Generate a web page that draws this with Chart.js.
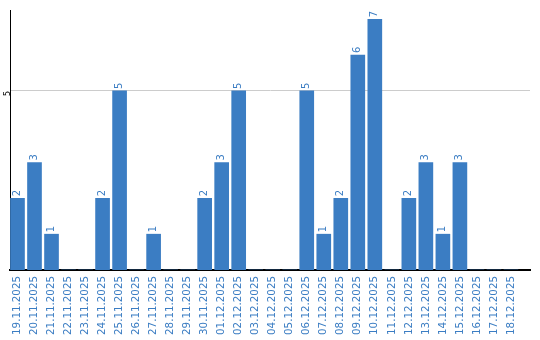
<!DOCTYPE html>
<html>
<head>
<meta charset="utf-8">
<script src="https://cdn.jsdelivr.net/npm/chart.js@4"></script>
<style>
html,body{margin:0;padding:0;background:#fff}
#wrap{width:540px;height:340px}
</style>
</head>
<body>
<div id="wrap"><canvas id="myChart"></canvas></div>
<script>
// days and counts
var days = ['19.11.2025','20.11.2025','21.11.2025','22.11.2025','23.11.2025','24.11.2025','25.11.2025','26.11.2025','27.11.2025','28.11.2025','29.11.2025','30.11.2025','01.12.2025','02.12.2025','03.12.2025','04.12.2025','05.12.2025','06.12.2025','07.12.2025','08.12.2025','09.12.2025','10.12.2025','11.12.2025','12.12.2025','13.12.2025','14.12.2025','15.12.2025','16.12.2025','17.12.2025','18.12.2025'];
var counts = [2,3,1,0,0,2,5,0,1,0,0,2,3,5,0,0,0,5,1,2,6,7,0,2,3,1,3,0,0,0];
var yTicks = [5];

var blue = '#3b7dc3';

var barLabels = {
    id: 'barLabels',
    afterDatasetsDraw: function(chart){
        var ctx = chart.ctx;
        var meta = chart.getDatasetMeta(0);
        ctx.save();
        ctx.font = '10px "DejaVu Sans"';
        ctx.fillStyle = blue;
        ctx.textAlign = 'left';
        ctx.textBaseline = 'middle';
        meta.data.forEach(function(bar, i){
            if (!counts[i]) return;
            ctx.save();
            ctx.translate(bar.x, bar.y - 2);
            ctx.rotate(-Math.PI/2);
            ctx.fillText(String(counts[i]), 0, 0);
            ctx.restore();
        });
        ctx.restore();
    }
};

var points = counts.map(function(v, i){ return {x: i, y: v}; });

var ctx = document.getElementById('myChart').getContext('2d');
var myChart = new Chart(ctx, {
    type: 'bar',
    data: {
        datasets: [{
            data: points,
            backgroundColor: blue,
            barThickness: 14
        }]
    },
    options: {
        responsive: true,
        maintainAspectRatio: false,
        animation: false,
        layout: { padding: { top: 10, right: 10, left: 0, bottom: 0 } },
        plugins: { legend: { display: false }, tooltip: { enabled: false } },
        scales: {
            x: {
                type: 'linear',
                offset: false,
                min: -0.44,
                max: 30.12,
                afterBuildTicks: function(s){ s.ticks = days.map(function(d, i){ return {value: i}; }); },
                afterFit: function(s){ s.height = 70; },
                grid: { display: false, drawTicks: false, offset: false },
                border: { color: '#000', width: 2 },
                ticks: {
                    autoSkip: false,
                    minRotation: 90,
                    maxRotation: 90,
                    padding: 6,
                    color: blue,
                    font: { family: 'DejaVu Sans', size: 10.3 },
                    callback: function(v){ return days[v]; }
                }
            },
            y: {
                min: 0,
                max: 7.26,
                afterBuildTicks: function(s){ s.ticks = yTicks.map(function(v){ return {value: v}; }); },
                afterFit: function(s){ s.width = 10; },
                grid: { color: '#cccccc', drawTicks: false },
                border: { color: '#000', width: 1 },
                ticks: {
                    minRotation: 90,
                    maxRotation: 90,
                    padding: 2,
                    color: '#000',
                    font: { family: 'DejaVu Sans', size: 8 }
                }
            }
        }
    },
    plugins: [barLabels]
});
</script>
</body>
</html>
